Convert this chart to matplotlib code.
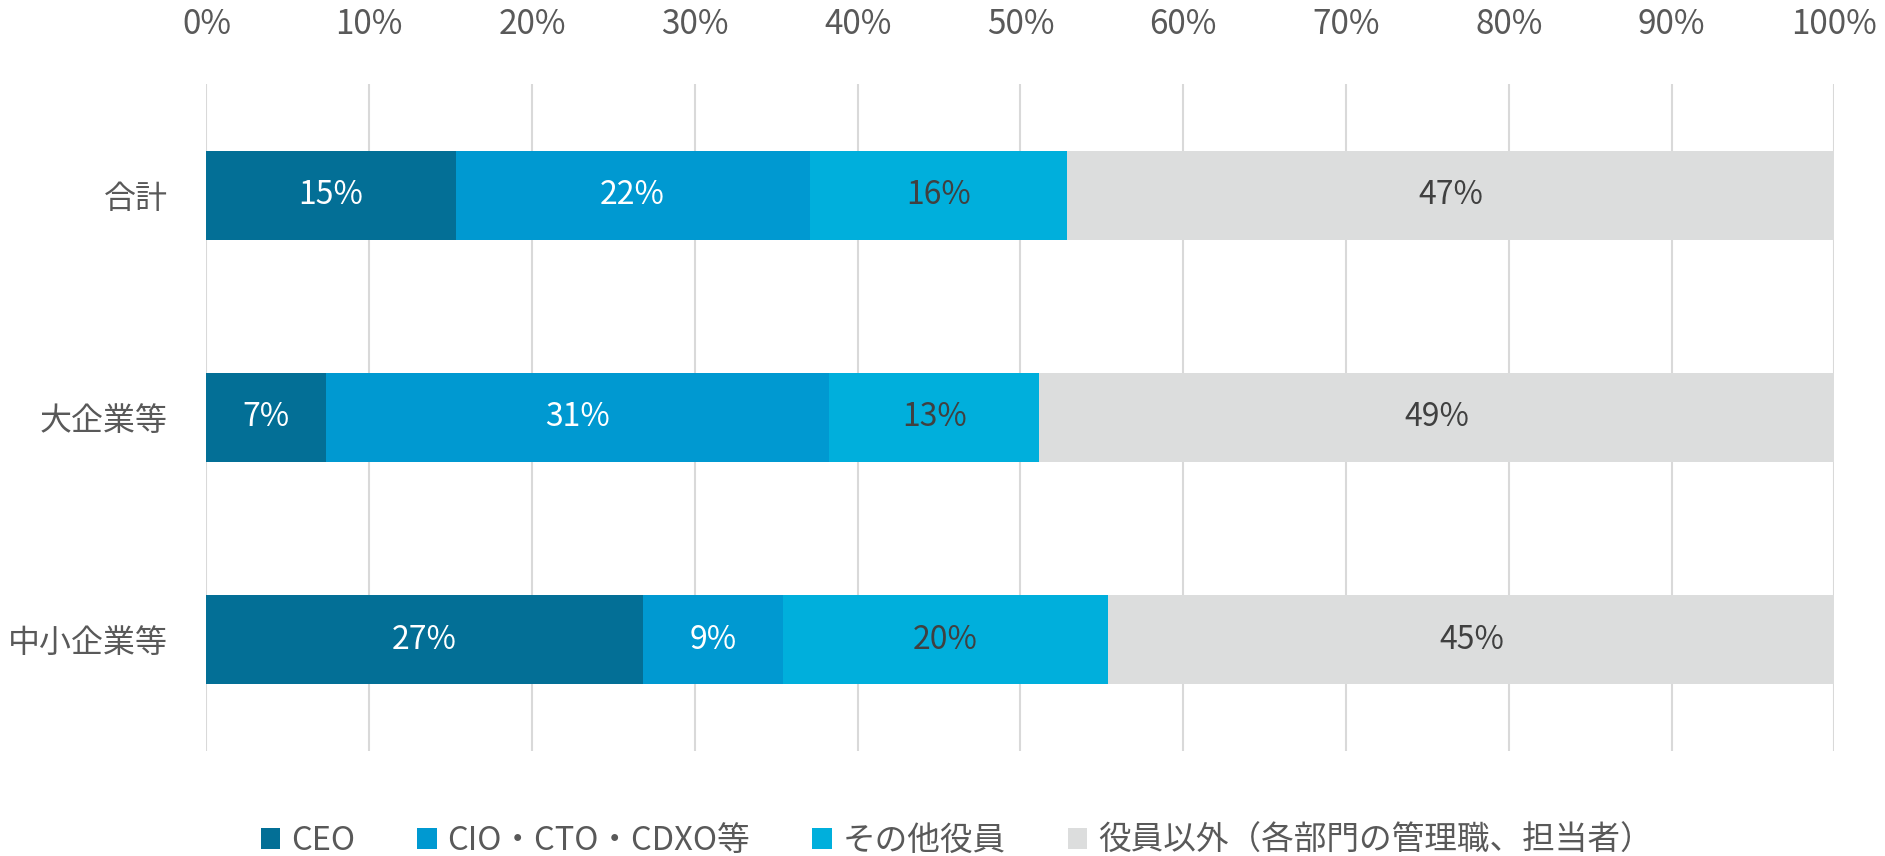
import matplotlib.pyplot as plt
import numpy as np

plt.rcParams['font.family'] = ['Noto Sans CJK JP', 'DejaVu Sans']

categories = ['合計', '大企業等', '中小企業等']
series = ['CEO', 'CIO・CTO・CDXO等', 'その他役員', '役員以外（各部門の管理職、担当者）']
ceo = [15.3, 7.35, 26.8]
cio = [21.75, 30.9, 8.6]
other_exec = [15.8, 12.9, 20.0]
non_exec = [47.15, 48.85, 44.6]
ticks = [0, 10, 20, 30, 40, 50, 60, 70, 80, 90, 100]

colors = ['#036F96', '#0099D1', '#00AFDC', '#DCDDDD']
label_colors = ['white', 'white', '#404040', '#404040']

fig = plt.figure(figsize=(18.85, 8.56), dpi=100)
ax = fig.add_axes([0.1095, 0.1227, 0.8637, 0.7792])

y = np.arange(len(categories))
left = np.zeros(len(categories))
for name, vals, c, tc in zip(series, [ceo, cio, other_exec, non_exec], colors, label_colors):
    bars = ax.barh(y, vals, left=left, height=0.4, color=c, label=name, zorder=3)
    ax.bar_label(bars, labels=[f'{v:.0f}%' for v in vals], label_type='center',
                 color=tc, fontsize=23)
    left += np.array(vals)

ax.set_xlim(0, 100)
ax.set_ylim(2.5, -0.5)
ax.set_yticks(y)
ax.set_yticklabels(categories, fontsize=23, color='#595959')
ax.set_xticks(ticks)
ax.set_xticklabels([f'{t}%' for t in ticks], fontsize=24, color='#595959')
ax.xaxis.tick_top()
ax.tick_params(axis='x', length=0, pad=30)
ax.tick_params(axis='y', length=0, pad=28)
ax.grid(axis='x', color='#D9D9D9', linewidth=1.5, zorder=0)
for s in ax.spines.values():
    s.set_visible(False)

fig.legend(loc='center', bbox_to_anchor=(0.5075, 0.0175), ncol=4, frameon=False,
           fontsize=23.5, handlelength=0.6, handleheight=0.6, handletextpad=0.33,
           columnspacing=1.9, labelcolor='#595959')

plt.savefig('out.png', dpi=100)
